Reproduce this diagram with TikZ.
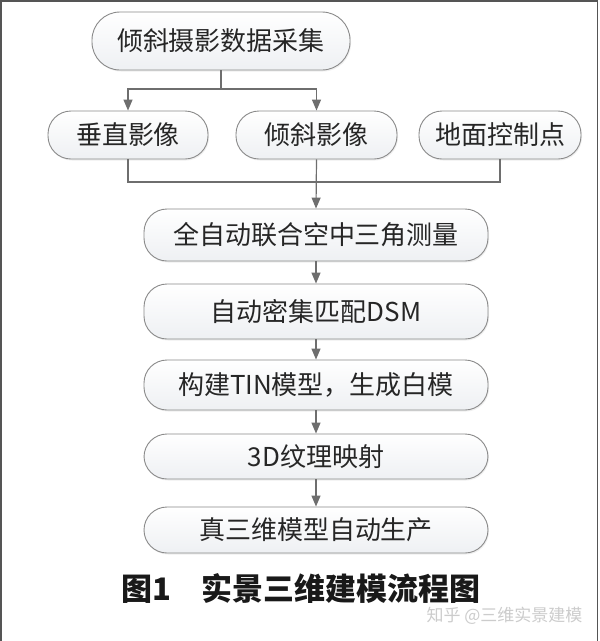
\documentclass[tikz,border=0pt]{standalone}
\usepackage{fontspec}
\setmainfont{Noto Sans CJK SC}
\usepackage{tikz}
\usepackage{xcolor}
\usetikzlibrary{
    arrows.meta,
    shadows,
    positioning
}
\definecolor{boxline}{HTML}{8A8A8A}
\definecolor{boxfill}{HTML}{EEF0F3}
\definecolor{linkline}{HTML}{6E6E6E}
\definecolor{frameline}{HTML}{555555}
\tikzset{procbox/.style={draw=boxline, line width=0.9pt, rounded corners=23pt,
    top color=white, bottom color=boxfill, text=black!85,
    drop shadow={shadow xshift=1pt, shadow yshift=-1.5pt, fill=black!12},
    font=\fontsize{26}{30}\selectfont, inner sep=0pt}}
\tikzset{flowarr/.style={draw=linkline, line width=1.2pt,
    -{Triangle[width=9pt, length=11pt, fill=linkline]}}}
\tikzset{flowlin/.style={draw=linkline, line width=1.2pt}}

\begin{document}
\begin{tikzpicture}[x=1pt, y=-1pt]
                        \useasboundingbox (0, 0) rectangle (600, 641);
                        \fill[white] (0, 0) rectangle (600, 641);
                        \draw[frameline, line width=1.5pt] (0.75, 641) -- (0.75, 0.75) -- (597.5, 0.75) -- (597.5, 641);

                        \node[procbox, rounded corners=28pt, minimum width=258pt, minimum height=58pt] (caiji) at (221, 41) {倾斜摄影数据采集};

                        \node[procbox, minimum width=160pt, minimum height=48pt] (chuizhi) at (128, 135) {垂直影像};
                        \node[procbox, minimum width=161pt, minimum height=48pt] (qingxie) at (316.5, 135) {倾斜影像};
                        \node[procbox, minimum width=162pt, minimum height=48pt] (kongzhi) at (500, 135) {地面控制点};

                        \node[procbox, minimum width=344pt, minimum height=52pt] (kongsan) at (316, 235) {全自动联合空中三角测量};
                        \node[procbox, minimum width=344pt, minimum height=55pt] (pipei) at (316, 311.5) {自动密集匹配DSM};
                        \node[procbox, minimum width=344pt, minimum height=50pt] (goujian) at (316, 385) {构建TIN模型，生成白模};
                        \node[procbox, minimum width=344pt, minimum height=45pt] (wenli) at (316, 456.5) {3D纹理映射};
                        \node[procbox, minimum width=344pt, minimum height=46pt] (shengchan) at (316, 530) {真三维模型自动生产};

                        \coordinate (fenzhi) at (221, 89);
                        \coordinate (huizong) at (316.5, 182);

                        \draw[flowlin] (caiji.south) -- (fenzhi);
                        \draw[flowarr] (fenzhi) -| (chuizhi.north);
                        \draw[flowarr] (fenzhi) -| (qingxie.north);

                        \draw[flowlin] (chuizhi.south) |- (huizong);
                        \draw[flowlin] (kongzhi.south) |- (huizong);
                        \draw[flowarr] (qingxie.south) -- (kongsan.north);

                        \draw[flowarr] (kongsan.south) -- (pipei.north);
                        \draw[flowarr] (pipei.south) -- (goujian.north);
                        \draw[flowarr] (goujian.south) -- (wenli.north);
                        \draw[flowarr] (wenli.south) -- (shengchan.north);

                        \node[font=\fontsize{31}{34}\selectfont\bfseries, text=black!90] (timing) at (301, 588) {图1\hspace{1em}实景三维建模流程图};
                        \node[font=\fontsize{17}{20}\selectfont, text=black!20, anchor=east] (shuiyin) at (586, 616) {知乎 @三维实景建模};
                    \end{tikzpicture}
\end{document}
